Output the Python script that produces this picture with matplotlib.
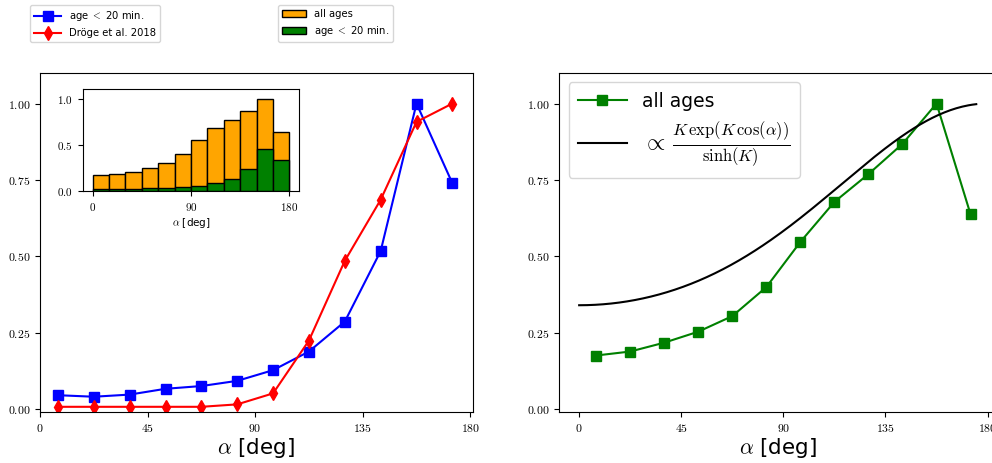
import numpy as np
import matplotlib
matplotlib.use("Agg")
import matplotlib.pyplot as plt
from matplotlib.ticker import FormatStrFormatter

plt.rcParams['font.family'] = ['DejaVu Sans']
plt.rcParams['mathtext.fontset'] = 'cm'

# bin centres (deg)
alpha = [7.5, 22.5, 37.5, 52.5, 67.5, 82.5, 97.5, 112.5, 127.5, 142.5, 157.5, 172.5]
bin_edges = [0, 15, 30, 45, 60, 75, 90, 105, 120, 135, 150, 165, 180]

# normalised distributions
young = [0.045, 0.040, 0.047, 0.066, 0.075, 0.092, 0.127, 0.188, 0.286, 0.517, 1.0, 0.739]
droege = [0.007, 0.007, 0.007, 0.007, 0.007, 0.015, 0.051, 0.224, 0.485, 0.685, 0.94, 1.0]
all_ages = [0.175, 0.188, 0.217, 0.253, 0.304, 0.399, 0.547, 0.678, 0.769, 0.868, 1.0, 0.637]

# inset histogram heights
hist_all = [0.17, 0.185, 0.21, 0.25, 0.30, 0.40, 0.55, 0.68, 0.77, 0.87, 1.0, 0.64]
hist_young = [0.02, 0.018, 0.02, 0.03, 0.034, 0.04, 0.055, 0.085, 0.13, 0.235, 0.45, 0.335]

# von Mises-like model, K
K = 0.54
a_model = np.linspace(0, 175, 200)
model = np.exp(-K * (1 + np.cos(np.radians(a_model))))

fig = plt.figure(figsize=(9.92, 4.63), dpi=100)

# left panel
ax1 = fig.add_axes([40/992, 1-412/463, 432.7/992, 339/463])
l1, = ax1.plot(alpha, young, 's-', color='b', lw=1.5, ms=7, label='age $<$ 20 min.')
l2, = ax1.plot(alpha, droege, 'd-', color='r', lw=1.5, ms=7, label='Dröge et al. 2018')
ax1.set_xlim(0, 181)
ax1.set_ylim(-0.01, 1.1)
ax1.set_xticks([0, 45, 90, 135, 180])
ax1.set_yticks([0, 0.25, 0.5, 0.75, 1.0])
ax1.xaxis.set_major_formatter(FormatStrFormatter('$%d$'))
ax1.yaxis.set_major_formatter(FormatStrFormatter('$%.2f$'))
ax1.tick_params(labelsize=8.5)
ax1.set_xlabel(r'$\alpha$ [deg]', fontsize=15.5, labelpad=1)

# inset
axi = fig.add_axes([82.7/992, 1-191/463, 216.6/992, 101.7/463])
b1 = axi.bar(bin_edges[:-1], hist_all, width=15, align='edge', color='orange',
             edgecolor='black', lw=1, label='all ages')
b2 = axi.bar(bin_edges[:-1], hist_young, width=15, align='edge', color='green',
             edgecolor='black', lw=1, label='age $<$ 20 min.')
axi.set_xlim(-9, 189)
axi.set_ylim(0, 1.1)
axi.set_xticks([0, 90, 180])
axi.set_yticks([0, 0.5, 1.0])
axi.xaxis.set_major_formatter(FormatStrFormatter('$%d$'))
axi.yaxis.set_major_formatter(FormatStrFormatter('$%.1f$'))
axi.tick_params(labelsize=8)
axi.set_xlabel(r'$\alpha$ [deg]', fontsize=7.5, labelpad=2)

# right panel
ax2 = fig.add_axes([559.3/992, 1-412/463, 436.8/992, 339/463])
ax2.plot(alpha, all_ages, 's-', color='g', lw=1.5, ms=7, label='all ages')
ax2.plot(a_model, model, '-', color='black', lw=1.5,
         label=r'$\propto\,\frac{K\,\exp(K\,\cos(\alpha))}{\sinh(K)}$')
ax2.set_xlim(-8.75, 183.75)
ax2.set_ylim(-0.01, 1.1)
ax2.set_xticks([0, 45, 90, 135, 180])
ax2.set_yticks([0, 0.25, 0.5, 0.75, 1.0])
ax2.xaxis.set_major_formatter(FormatStrFormatter('$%d$'))
ax2.yaxis.set_major_formatter(FormatStrFormatter('$%.2f$'))
ax2.tick_params(labelsize=8.5)
ax2.set_xlabel(r'$\alpha$ [deg]', fontsize=15.5, labelpad=1)
leg = ax2.legend(loc='upper left', fontsize=13.5, handlelength=2.6, borderpad=0.5)
leg.get_texts()[1].set_fontsize(17)

fig.legend(handles=[l1, l2], loc='upper left', bbox_to_anchor=(25/992, 1.0),
           fontsize=7.2, handlelength=2.7)
fig.legend(handles=[b1, b2], loc='upper left', bbox_to_anchor=(273/992, 1.0),
           fontsize=7.2, handlelength=2.4)

fig.savefig('out.png', dpi=100)
